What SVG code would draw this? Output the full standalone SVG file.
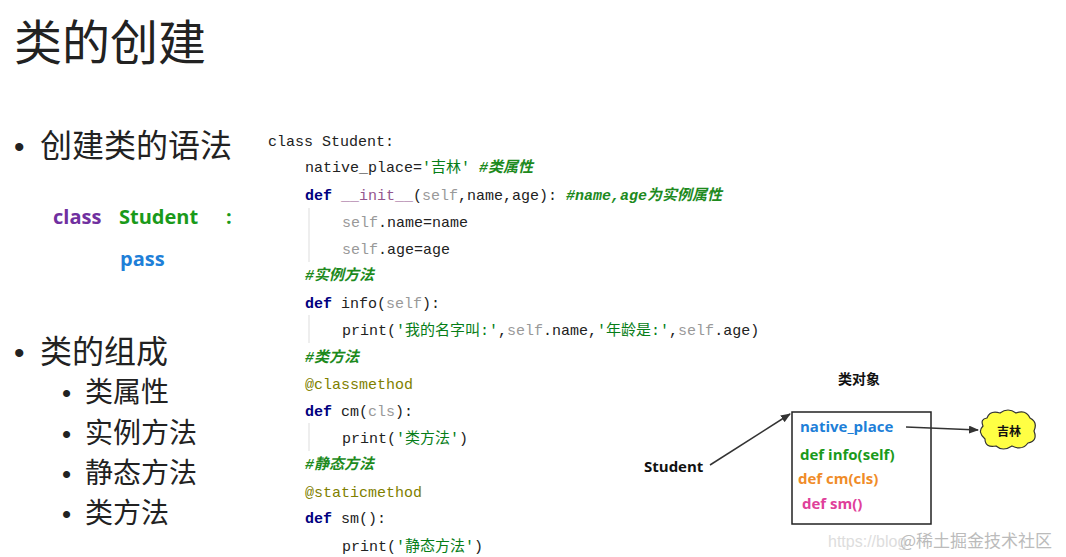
<svg xmlns="http://www.w3.org/2000/svg" width="1066" height="557" viewBox="0 0 1066 557">
<style>
.cjk{font-family:"Noto Sans CJK SC","Noto Sans",sans-serif}
.bul{font-family:"Liberation Sans",sans-serif}
.code{font-family:"Liberation Mono","Noto Sans CJK SC",monospace;font-size:15px;fill:#222}
.kw{fill:#000080;font-weight:bold}
.sf{fill:#94558d}
.sl{fill:#999}
.str{fill:#067d17}
.cm{fill:#1d8a1d;font-style:italic;font-weight:bold}
.dec{fill:#808000}
.b{font-family:"Open Sans","Noto Sans CJK SC",sans-serif;font-weight:bold}
.guide{stroke:#ddd;stroke-width:1}
</style>
<defs>
<marker id="ah" markerWidth="10" markerHeight="8" refX="9" refY="4" orient="auto" markerUnits="userSpaceOnUse"><path d="M0,0 L10,4 L0,8 Z" fill="#333"/></marker>
</defs>
<rect width="1066" height="557" fill="#fff"/>
<text x="14" y="60" class="cjk" font-size="48" fill="#222">类的创建</text>
<g fill="#222">
<text x="14" y="157" font-size="30" class="bul">•</text>
<text x="40" y="157" font-size="32" class="cjk">创建类的语法</text>
<text x="14" y="363" font-size="30" class="bul">•</text>
<text x="40" y="363" font-size="32" class="cjk">类的组成</text>
<text x="62" y="402" font-size="26" class="bul">•</text>
<text x="85" y="402" font-size="28" class="cjk">类属性</text>
<text x="62" y="443" font-size="26" class="bul">•</text>
<text x="85" y="443" font-size="28" class="cjk">实例方法</text>
<text x="62" y="483" font-size="26" class="bul">•</text>
<text x="85" y="483" font-size="28" class="cjk">静态方法</text>
<text x="62" y="523" font-size="26" class="bul">•</text>
<text x="85" y="523" font-size="28" class="cjk">类方法</text>
</g>
<text x="53" y="224" class="b" font-size="20" fill="#7030a0">class</text>
<text x="119" y="224" class="b" font-size="20" fill="#1a9a1a">Student</text>
<text x="226" y="224" class="b" font-size="20" fill="#1a9a1a">:</text>
<text x="120" y="266" class="b" font-size="20" fill="#1e7fd8">pass</text>
<g id="code">
<line class="guide" x1="309" y1="208" x2="309" y2="262"/>
<line class="guide" x1="309" y1="315" x2="309" y2="343"/>
<line class="guide" x1="309" y1="423" x2="309" y2="451"/>
<text x="268" y="146" class="code">class Student:</text>
<text x="305" y="172" class="code">native_place=<tspan class="str">'吉林'</tspan> <tspan class="cm">#类属性</tspan></text>
<text x="305" y="200" class="code"><tspan class="kw">def</tspan> <tspan class="sf">__init__</tspan>(<tspan class="sl">self</tspan>,name,age): <tspan class="cm">#name,age为实例属性</tspan></text>
<text x="342" y="227" class="code"><tspan class="sl">self</tspan>.name=name</text>
<text x="342" y="254" class="code"><tspan class="sl">self</tspan>.age=age</text>
<text x="305" y="280" class="code"><tspan class="cm">#实例方法</tspan></text>
<text x="305" y="308" class="code"><tspan class="kw">def</tspan> info(<tspan class="sl">self</tspan>):</text>
<text x="342" y="335" class="code">print(<tspan class="str">'我的名字叫:'</tspan>,<tspan class="sl">self</tspan>.name,<tspan class="str">'年龄是:'</tspan>,<tspan class="sl">self</tspan>.age)</text>
<text x="305" y="362" class="code"><tspan class="cm">#类方法</tspan></text>
<text x="305" y="389" class="code"><tspan class="dec">@classmethod</tspan></text>
<text x="305" y="416" class="code"><tspan class="kw">def</tspan> cm(<tspan class="sl">cls</tspan>):</text>
<text x="342" y="443" class="code">print(<tspan class="str">'类方法'</tspan>)</text>
<text x="305" y="469" class="code"><tspan class="cm">#静态方法</tspan></text>
<text x="305" y="497" class="code"><tspan class="dec">@staticmethod</tspan></text>
<text x="305" y="523" class="code"><tspan class="kw">def</tspan> sm():</text>
<text x="342" y="551" class="code">print(<tspan class="str">'静态方法'</tspan>)</text>
</g>
<text x="838" y="384" class="b" font-size="14" fill="#111">类对象</text>
<g id="student"><text x="644" y="472" class="b" font-size="15" fill="#111">Student</text></g>
<g id="classobj">
<rect x="792" y="412" width="139" height="112" fill="#fff" stroke="#222" stroke-width="1.5"/>
<text x="800" y="432" class="b" font-size="15" fill="#1e7fd8">native_place</text>
<text x="800" y="460" class="b" font-size="15" fill="#1a9a1a">def info(self)</text>
<text x="798" y="484" class="b" font-size="15" fill="#f08c28">def cm(cls)</text>
<text x="802" y="509" class="b" font-size="15" fill="#e0409a">def sm()</text>
</g>
<g id="jilin">
<path d="M987,418 Q990,410 1000,413 Q1008,407 1016,413 Q1026,409 1030,418 Q1038,422 1034,431 Q1038,441 1028,443 Q1022,451 1012,446 Q1003,452 996,446 Q985,448 985,439 Q977,432 983,426 Q980,419 987,418 Z" fill="#ffff44" stroke="#333" stroke-width="1.2"/>
<text x="997" y="436" class="b" font-size="12" fill="#111">吉林</text>
</g>
<g id="connectors" stroke="#333" stroke-width="1.5" fill="none">
<line x1="710" y1="465" x2="790" y2="414" marker-end="url(#ah)"/>
<line x1="906" y1="427" x2="978" y2="430" marker-end="url(#ah)"/>
</g>
<text x="828" y="547" font-family="Liberation Sans,sans-serif" font-size="16" fill="#ddd">https://blog</text>
<text x="900" y="547" class="cjk" font-size="17" fill="#bbb">@稀土掘金技术社区</text>
</svg>
